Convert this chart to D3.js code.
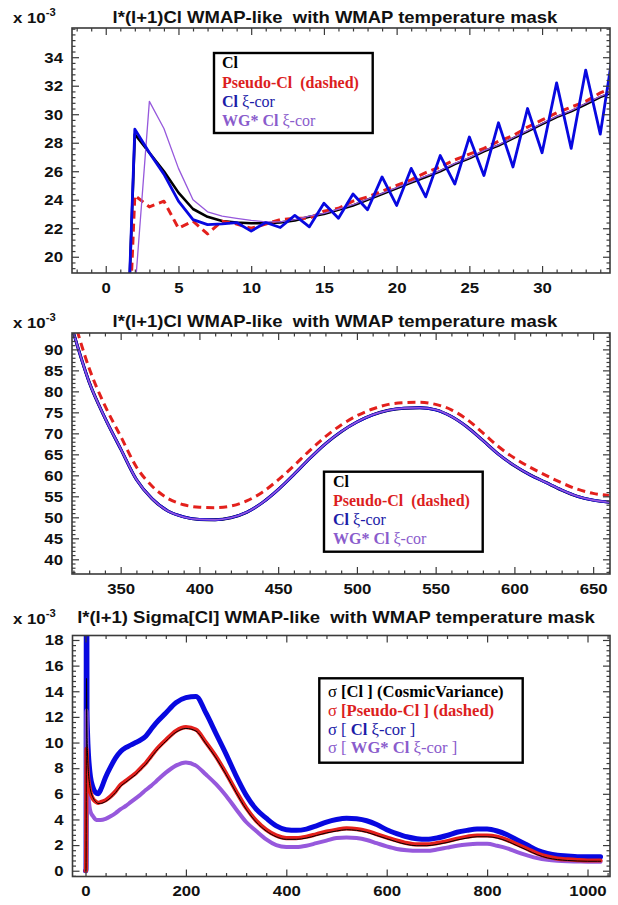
<!DOCTYPE html>
<html><head><meta charset="utf-8">
<script src="https://cdn.jsdelivr.net/npm/d3@7/dist/d3.min.js"></script>
<style>
html,body{margin:0;padding:0;background:#fff;}
svg{display:block;}
text{white-space:pre;}
</style></head><body>
<svg id="chart" width="618" height="905"></svg>
<script>
// ---------------- DATA ----------------
// Panel 1 : low multipoles
const lLow      = [0,1,2,3,4,5,6,7,8,9,10,11,12,13,14,15,16,17,18,19,20,21,22,23,24,25,26,27,28,29,30,31,32,33,34,35];
const clLow     = [0,0,28.6,27.3,26.0,24.5,23.35,22.8,22.5,22.4,22.35,22.35,22.4,22.55,22.8,23.0,23.3,23.6,24.0,24.4,24.8,25.2,25.6,26.0,26.5,26.9,27.4,27.8,28.3,28.8,29.3,29.8,30.2,30.7,31.2,31.6];
const pseudoLow = [0,0,24.3,23.5,23.9,22.0,22.5,21.6,22.5,22.3,22.0,22.3,22.6,22.7,22.7,23.2,23.4,23.9,24.2,24.6,25.0,25.4,25.9,26.3,26.8,27.2,27.6,28.1,28.5,29.1,29.6,30.1,30.5,30.9,31.5,31.9];
const xiLow     = [0,0,28.95,27.3,25.8,23.9,22.6,22.25,22.3,22.4,21.8,22.4,22.05,22.9,22.1,23.75,22.7,24.4,23.3,25.6,23.6,26.2,24.2,27.1,25.1,28.4,25.7,29.4,26.3,30.4,27.3,32.2,27.6,33.1,28.6,35.2];
const wgLow     = [0,0,17.5,30.9,29.0,26.2,24.0,23.15,22.85,22.7,22.55,22.45,22.45,22.6,22.85,23.05,23.35,23.65,24.05,24.45,24.85,25.25,25.65,26.05,26.55,26.95,27.45,27.85,28.35,28.85,29.35,29.85,30.25,30.75,31.25,31.65];

// Panel 2 : l = 320..660
const lMid      = [320,330,340,350,360,370,380,390,400,410,420,430,440,450,460,470,480,490,500,510,520,530,540,550,560,570,580,590,600,610,620,630,640,650,660];
const clMid     = [94.0,82.2,73.7,66.3,59.0,54.4,51.5,50.1,49.5,49.4,49.9,51.2,53.5,56.6,60.2,64.0,67.5,70.4,72.7,74.4,75.5,76.0,76.1,75.6,74.0,71.5,68.3,65.0,62.3,60.1,58.3,56.5,55.0,54.1,53.6];
const pseudoMid = [97.5,85.5,76.6,69.3,62.0,57.4,54.5,53.0,52.4,52.3,52.7,53.9,56.0,58.9,62.3,65.9,69.2,72.0,74.2,75.8,76.9,77.3,77.4,76.9,75.6,73.3,70.1,66.8,64.1,61.9,60.0,58.2,56.7,55.7,55.2];
const xiMid     = [94.0,82.2,73.7,66.3,59.0,54.4,51.5,50.1,49.5,49.4,49.9,51.2,53.5,56.6,60.2,64.0,67.5,70.4,72.7,74.4,75.5,76.0,76.1,75.6,74.0,71.5,68.3,65.0,62.3,60.1,58.3,56.5,55.0,54.1,53.6];
const wgMid     = [94.0,82.2,73.7,66.3,59.0,54.4,51.5,50.1,49.5,49.4,49.9,51.2,53.5,56.6,60.2,64.0,67.5,70.4,72.7,74.4,75.5,76.0,76.1,75.6,74.0,71.5,68.3,65.0,62.3,60.1,58.3,56.5,55.0,54.1,53.6];

// Panel 3 : l(l+1) sigma[Cl]
const lSig      = [0,1,2,3,4,6,8,10,15,20,25,30,40,50,60,70,80,90,100,110,120,130,140,160,180,200,220,240,260,280,300,320,340,360,380,400,420,440,460,480,500,520,540,560,580,600,620,640,660,680,700,720,740,760,780,800,820,840,860,880,900,920,940,960,980,1000,1020,1026];
const sigCl     = [0,0,15,11,9.2,7.6,6.8,6.3,5.7,5.4,5.25,5.25,5.4,5.7,6.1,6.6,6.9,7.2,7.5,7.9,8.3,8.8,9.3,10.1,10.8,11.1,10.9,9.9,8.8,7.5,6.1,4.8,3.8,3.1,2.65,2.45,2.45,2.55,2.75,2.95,3.1,3.2,3.15,3.0,2.75,2.5,2.25,2.05,1.95,1.95,2.05,2.2,2.4,2.55,2.65,2.65,2.55,2.3,1.95,1.6,1.25,1.0,0.87,0.8,0.76,0.74,0.74,0.74];
const sigPseudo = [0,0,9.5,8.5,7.8,7.0,6.5,6.1,5.6,5.4,5.3,5.35,5.5,5.8,6.2,6.7,7.0,7.3,7.6,8.0,8.4,8.9,9.4,10.2,10.9,11.2,11.0,10.0,8.9,7.6,6.2,4.9,3.9,3.2,2.75,2.55,2.55,2.65,2.85,3.05,3.2,3.3,3.25,3.1,2.85,2.6,2.35,2.15,2.05,2.05,2.15,2.3,2.5,2.65,2.75,2.75,2.65,2.4,2.05,1.7,1.35,1.1,0.95,0.88,0.83,0.8,0.8,0.8];
const sigXi     = [0,0,40,12.5,10.8,9.0,8.0,7.3,6.5,6.1,6.0,6.3,7.3,8.1,8.8,9.3,9.6,9.8,10.0,10.2,10.5,11.0,11.5,12.3,13.1,13.5,13.6,12.3,10.7,9.1,7.4,5.9,4.8,4.1,3.5,3.2,3.15,3.25,3.5,3.8,4.0,4.1,4.05,3.9,3.6,3.2,2.9,2.65,2.5,2.45,2.55,2.75,3.0,3.15,3.25,3.25,3.1,2.8,2.4,2.0,1.6,1.35,1.2,1.15,1.1,1.1,1.1,1.1];
const sigWg     = [0,0,12.5,9.0,7.2,5.8,5.0,4.6,4.25,4.0,3.95,3.95,4.05,4.25,4.5,4.8,5.05,5.35,5.65,5.95,6.3,6.6,6.95,7.65,8.2,8.45,8.2,7.5,6.75,5.85,4.8,3.8,3.1,2.45,2.0,1.85,1.85,1.95,2.15,2.35,2.55,2.6,2.55,2.4,2.15,1.9,1.7,1.6,1.55,1.55,1.65,1.8,1.95,2.05,2.1,2.1,1.95,1.75,1.45,1.2,0.98,0.85,0.78,0.74,0.72,0.7,0.7,0.7];

// Tick labels
const xTicks1 = [0,5,10,15,20,25,30];
const yTicks1 = [20,22,24,26,28,30,32,34];
const xTicks2 = [350,400,450,500,550,600,650];
const yTicks2 = [40,45,50,55,60,65,70,75,80,85,90];
const xTicks3 = [0,200,400,600,800,1000];
const yTicks3 = [0,2,4,6,8,10,12,14,16,18];

const title1 = "l*(l+1)Cl WMAP-like  with WMAP temperature mask";
const title3 = "l*(l+1) Sigma[Cl] WMAP-like  with WMAP temperature mask";

// ---------------- DRAW ----------------
const COL = {black:'#000000', red:'#e3201c', blue:'#0808e0', purple:'#9658dc'};
const TXT = {black:'#000000', red:'#dc1e1e', blue:'#1c1ca8', purple:'#8a5ccc'};
const SANS = "'Liberation Sans', Arial, Helvetica, sans-serif";
const SERIF = "'Liberation Serif', 'Times New Roman', Times, serif";
const svg = d3.select('#chart');

function minors(dom, step, majors){
  const out=[]; const s=Math.ceil(dom[0]/step), e=Math.floor(dom[1]/step);
  for(let k=s;k<=e;k++){ const v=+(k*step).toFixed(6); if(!majors.some(m=>Math.abs(m-v)<1e-6)) out.push(v); }
  return out;
}

function makePanel(o){
  const x=d3.scaleLinear().domain(o.xd).range([o.x0,o.x1]);
  const y=d3.scaleLinear().domain(o.yd).range([o.y1,o.y0]);
  svg.append('clipPath').attr('id','cp'+o.id).append('rect')
    .attr('x',o.x0).attr('y',o.y0).attr('width',o.x1-o.x0).attr('height',o.y1-o.y0);
  const g=svg.append('g');
  const plot=g.append('g').attr('clip-path','url(#cp'+o.id+')');
  const axG=g.append('g');
  const xMin=minors(o.xd,o.xStep,o.xMaj), yMin=minors(o.yd,o.yStep,o.yMaj);
  const defs=[
    [d3.axisBottom,x,o.xMaj,xMin,`translate(0,${o.y1})`,true],
    [d3.axisTop,x,o.xMaj,xMin,`translate(0,${o.y0})`,false],
    [d3.axisLeft,y,o.yMaj,yMin,`translate(${o.x0},0)`,true],
    [d3.axisRight,y,o.yMaj,yMin,`translate(${o.x1},0)`,false]];
  defs.forEach(([fn,sc,maj,mn,tr,lab])=>{
    const a=axG.append('g').attr('transform',tr);
    a.call(fn(sc).tickValues(mn).tickSize(-3.5).tickFormat(''));
    a.select('.domain').remove();
    const b=axG.append('g').attr('transform',tr);
    b.call(fn(sc).tickValues(maj).tickSize(-7).tickPadding(9).tickFormat(lab?d3.format('d'):''));
    b.select('.domain').remove();
    [a,b].forEach(s=>s.selectAll('line').attr('stroke','#3a3a3a').attr('stroke-width',1.2));
    b.selectAll('text').classed('sans',true).style('font-family',SANS).style('font-weight','bold')
      .style('font-size','15px').attr('fill','#111');
  });
  axG.append('rect').attr('x',o.x0).attr('y',o.y0).attr('width',o.x1-o.x0).attr('height',o.y1-o.y0)
    .attr('fill','none').attr('stroke','#3a3a3a').attr('stroke-width',1.6);
  // title
  svg.append('text').classed('sans',true).attr('x',o.tx).attr('y',o.ty).attr('text-anchor','middle')
    .style('font-family',SANS).style('font-weight','bold').style('font-size','16.5px').attr('fill','#111').text(o.title);
  const m=svg.append('text').classed('sans',true).attr('x',13).attr('y',o.ty+0.5)
    .style('font-family',SANS).style('font-weight','bold').style('font-size','15px').attr('fill','#111');
  m.append('tspan').text('x 10');
  m.append('tspan').attr('dy',-7).style('font-size','10px').text('-3');
  return {x,y,g,plot,axG};
}

function drawLine(p,xs,ys,st){
  const gen=d3.line().x((d,i)=>p.x(xs[i])).y(d=>p.y(d)).curve(st.curve||d3.curveLinear);
  p.plot.append('path').datum(ys).attr('d',gen).attr('fill','none')
    .attr('stroke',st.c).attr('stroke-width',st.w)
    .attr('stroke-dasharray',st.dash||null)
    .attr('stroke-linejoin','round').attr('stroke-linecap',st.dash?'butt':'round');
}

function legend(p,box,tx,lines,fs){
  p.axG.append('rect').attr('x',box[0]).attr('y',box[1]).attr('width',box[2]-box[0]).attr('height',box[3]-box[1])
    .attr('fill','#fff').attr('stroke','#000').attr('stroke-width',2.4);
  lines.forEach(L=>{
    const t=p.axG.append('text').attr('x',tx).attr('y',L.y).style('font-family',SERIF).style('font-size',fs+'px').attr('fill',TXT[L.c]);
    L.parts.forEach(pt=>t.append('tspan').style('font-weight',pt[1]?'bold':'normal').text(pt[0]));
  });
}

// Panel 1
const p1=makePanel({id:1,x0:72,x1:610,y0:28,y1:273,xd:[-2.32,34.67],yd:[18.86,36.05],
  xMaj:xTicks1,yMaj:yTicks1,xStep:1,yStep:0.4,tx:335,ty:22.5,title:title1});
drawLine(p1,lLow,clLow,{c:COL.black,w:2.6});
drawLine(p1,lLow,pseudoLow,{c:COL.red,w:3,dash:'8,5'});
drawLine(p1,lLow,wgLow,{c:COL.purple,w:1.3});
drawLine(p1,lLow,xiLow,{c:COL.blue,w:2.8});
legend(p1,[214,53,372.7,133],222,[
  {y:68,c:'black',parts:[['Cl',1]]},
  {y:87.5,c:'red',parts:[['Pseudo-Cl  (dashed)',1]]},
  {y:107,c:'blue',parts:[['Cl ',1],['ξ-cor',0]]},
  {y:126,c:'purple',parts:[['WG* Cl ',1],['ξ-cor',0]]}],16);

// Panel 2
const p2=makePanel({id:2,x0:72,x1:610,y0:333,y1:574,xd:[319.1,660.7],yd:[36.5,93.9],
  xMaj:xTicks2,yMaj:yTicks2,xStep:10,yStep:1,tx:335,ty:327,title:title1});
drawLine(p2,lMid,pseudoMid,{c:COL.red,w:3,dash:'8,5',curve:d3.curveMonotoneX});
drawLine(p2,lMid,clMid,{c:COL.black,w:3,curve:d3.curveMonotoneX});
drawLine(p2,lMid,xiMid,{c:COL.blue,w:2.8,curve:d3.curveMonotoneX});
drawLine(p2,lMid,wgMid,{c:COL.purple,w:1.6,curve:d3.curveMonotoneX});
legend(p2,[324,471.7,482.7,551.7],333,[
  {y:486.5,c:'black',parts:[['Cl',1]]},
  {y:505.5,c:'red',parts:[['Pseudo-Cl  (dashed)',1]]},
  {y:525,c:'blue',parts:[['Cl ',1],['ξ-cor',0]]},
  {y:544,c:'purple',parts:[['WG* Cl ',1],['ξ-cor',0]]}],16);

// Panel 3
const p3=makePanel({id:3,x0:72.5,x1:610,y0:635.5,y1:876.5,xd:[-25.9,1044.8],yd:[-0.45,18.35],
  xMaj:xTicks3,yMaj:yTicks3,xStep:40,yStep:0.4,tx:336,ty:623,title:title3});
drawLine(p3,lSig,sigXi,{c:COL.blue,w:5,curve:d3.curveMonotoneX});
drawLine(p3,lSig,sigWg,{c:COL.purple,w:4,curve:d3.curveMonotoneX});
drawLine(p3,lSig,sigPseudo,{c:COL.red,w:4.2,curve:d3.curveMonotoneX});
drawLine(p3,lSig,sigCl,{c:COL.black,w:1,curve:d3.curveMonotoneX});
legend(p3,[319.3,678.3,522.7,762.7],328,[
  {y:697,c:'black',parts:[['σ ',0],['[Cl ] (CosmicVariance)',1]]},
  {y:715.5,c:'red',parts:[['σ ',0],['[Pseudo-Cl ] (dashed)',1]]},
  {y:734.5,c:'blue',parts:[['σ [ ',0],['Cl ',1],['ξ-cor ]',0]]},
  {y:753,c:'purple',parts:[['σ [ ',0],['WG* Cl ',1],['ξ-cor ]',0]]}],16.6);

// horizontal stretch of the sans-serif text, as in the reference rendering
d3.selectAll('text.sans').each(function(){
  const w=this.getComputedTextLength();
  if(w>0){ this.setAttribute('textLength',(w*1.12).toFixed(1)); this.setAttribute('lengthAdjust','spacingAndGlyphs'); }
});
</script>
</body></html>
